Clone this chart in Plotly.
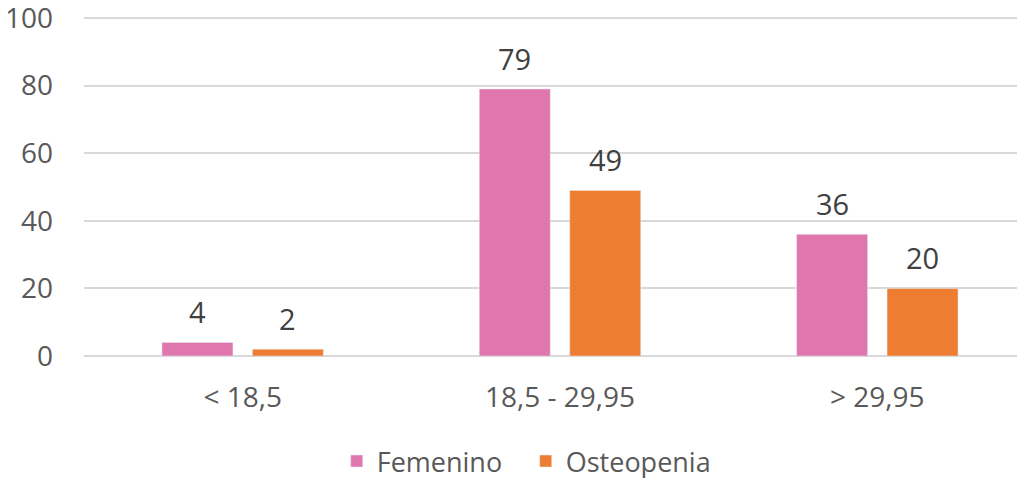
import plotly.graph_objects as go

categories = ["< 18,5", "18,5 - 29,95", "> 29,95"]
femenino = [4, 79, 36]
osteopenia = [2, 49, 20]
y_ticks = [0, 20, 40, 60, 80, 100]

font_family = "Open Sans, Noto Sans, Liberation Sans, sans-serif"
label_color = "#404040"
tick_color = "#595959"

fig = go.Figure()
fig.add_trace(go.Bar(name="Femenino", x=categories, y=femenino, marker=dict(color="#DF77AE")))
fig.add_trace(go.Bar(name="Osteopenia", x=categories, y=osteopenia, marker=dict(color="#ED7D31")))

# value labels above each bar (a bit higher than plotly's own outside text)
for series, shift in [(femenino, -45.3), (osteopenia, 45.3)]:
    for cat, val in zip(categories, series):
        fig.add_annotation(x=cat, y=val, text=str(val), showarrow=False,
                           xref="x", yref="y", yanchor="bottom", xshift=shift, yshift=9,
                           font=dict(size=29, color=label_color, family=font_family))

# the page adds an 8px body margin, so the margins are shifted to compensate
fig.update_layout(
    width=1028, height=478,
    margin=dict(l=76, r=0, t=8, b=130),
    paper_bgcolor="white", plot_bgcolor="white",
    barmode="group", bargap=0.43, bargroupgap=0.215,
    font=dict(family=font_family, size=27, color=tick_color),
    showlegend=True,
    legend=dict(orientation="h", x=0.464, xanchor="center", y=-0.312, yanchor="middle",
                font=dict(size=27, color=tick_color), itemwidth=30, entrywidth=144),
)
fig.update_xaxes(showgrid=False, showline=False, ticks="", automargin=False,
                 tickfont=dict(size=28, color=tick_color), ticklabelstandoff=22)
fig.update_yaxes(range=[0, 100.6], tickvals=y_ticks, showgrid=True, gridcolor="#D9D9D9", gridwidth=1.5,
                 zeroline=True, zerolinecolor="#D9D9D9", zerolinewidth=1.5, automargin=False,
                 ticklabeloverflow="allow",
                 tickfont=dict(size=28, color=tick_color), ticklabelstandoff=30)

fig.write_html("out.html")
